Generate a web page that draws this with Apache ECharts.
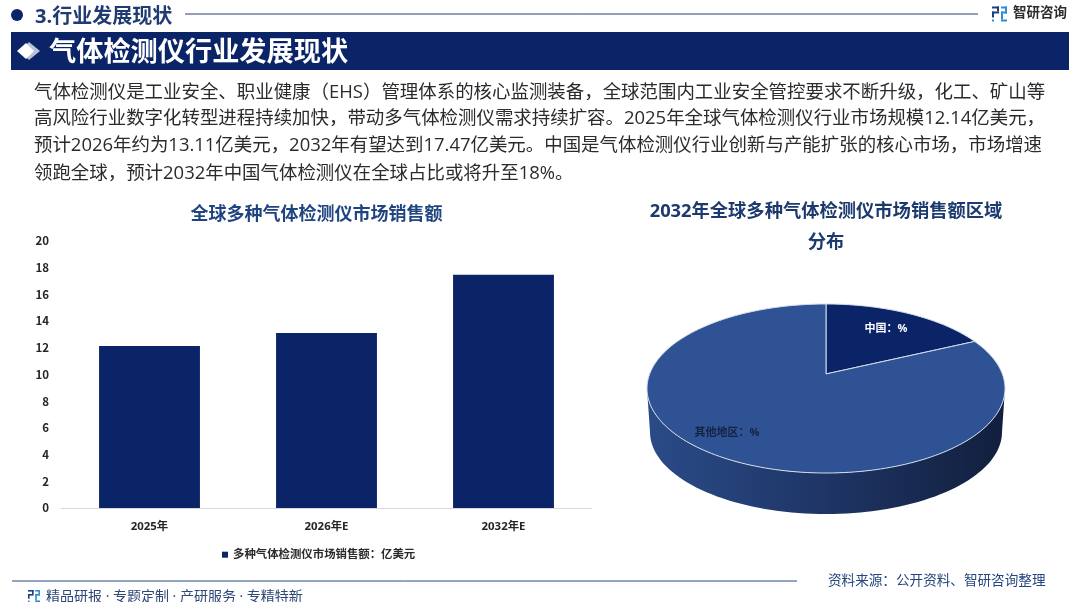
<!DOCTYPE html>
<html>
<head>
<meta charset="utf-8">
<style>html,body{margin:0;padding:0;background:#fff;overflow:hidden}#c{width:1080px;height:602px}</style>
<script src="https://cdn.jsdelivr.net/npm/echarts@6/dist/echarts.min.js"></script>
</head>
<body>
<div id="c"></div>
<script>
const categories = ['2025年', '2026年E', '2032年E'];
const barValues = [12.14, 13.11, 17.47];
const barSeriesName = '多种气体检测仪市场销售额：亿美元';
const pieNames = ['中国：%', '其他地区：%'];
const pieValues = [18, 82];
const paragraphLines = [
  '气体检测仪是工业安全、职业健康（EHS）管理体系的核心监测装备，全球范围内工业安全管控要求不断升级，化工、矿山等',
  '高风险行业数字化转型进程持续加快，带动多气体检测仪需求持续扩容。2025年全球气体检测仪行业市场规模12.14亿美元，',
  '预计2026年约为13.11亿美元，2032年有望达到17.47亿美元。中国是气体检测仪行业创新与产能扩张的核心市场，市场增速',
  '领跑全球，预计2032年中国气体检测仪在全球占比或将升至18%。'
];

const FONT = '"Open Sans","Noto Sans CJK SC","Noto Sans",sans-serif';
const NAVY = '#0b2468';

// 3D pie geometry
const P = {cx: 826, cy: 388.5, rx: 179, ry: 84.5, tilt: 0.172,
           baseCy: 432, baseRx: 176, baseRy: 82};
function project(angle) {
  const X = Math.sin(angle), Y = Math.cos(angle), q = P.tilt;
  const w = 1 + q * Y;
  return [P.cx + P.rx * X * Math.sqrt(1 - q * q) / w, P.cy - P.ry * (Y + q) / w];
}
function sidePoints() {
  const pts = [];
  for (let i = 0; i <= 80; i++) {
    const a = Math.PI * i / 80;
    pts.push([P.cx - P.rx * Math.cos(a), P.cy + P.ry * Math.sin(a)]);
  }
  for (let i = 80; i >= 0; i--) {
    const a = Math.PI * i / 80;
    pts.push([P.cx - P.baseRx * Math.cos(a), P.baseCy + P.baseRy * Math.sin(a)]);
  }
  return pts;
}
const pieTotal = pieValues.reduce((a, b) => a + b, 0);
const labelPos = [[886, 329], [727, 433]];
const labelColor = ['#ffffff', '#14233f'];
const sliceColor = [NAVY, '#2f5295'];

function renderPie(params, api) {
  const i = params.dataIndex;
  let before = 0;
  for (let k = 0; k < i; k++) before += pieValues[k];
  const start = before / pieTotal * 2 * Math.PI;
  const sweep = api.value(0) / pieTotal * 2 * Math.PI;
  const steps = Math.max(8, Math.round(sweep * 40));
  const pts = [[P.cx, P.cy - P.ry * P.tilt]];
  for (let s = 0; s <= steps; s++) pts.push(project(start + sweep * s / steps));
  const children = [];
  if (i === 0) {
    children.push({
      type: 'polygon', shape: {points: sidePoints()},
      style: {fill: new echarts.graphic.LinearGradient(0, 0, 1, 0, [
        {offset: 0, color: '#2a4b88'}, {offset: 0.5, color: '#1e3565'}, {offset: 1, color: '#121f3d'}
      ])}
    });
  }
  children.push({
    type: 'polygon', shape: {points: pts},
    style: {fill: sliceColor[i], stroke: '#d5dde9', lineWidth: 1, lineJoin: 'round'}
  });
  return {type: 'group', children: children};
}
function renderPieLabel(params) {
  const i = params.dataIndex;
  return {
    type: 'text', x: labelPos[i][0], y: labelPos[i][1],
    style: {text: pieNames[i], fill: labelColor[i], font: 'bold 11px ' + FONT, align: 'center', verticalAlign: 'middle'}
  };
}

function txt(text, x, y, font, fill, align) {
  return {type: 'text', x: x, y: y, z: 10,
    style: {text: text, font: font + ' ' + FONT, fill: fill, align: align || 'left', verticalAlign: 'middle'}};
}
function rect(x, y, w, h, fill) {
  return {type: 'rect', z: 5, shape: {x: x, y: y, width: w, height: h}, style: {fill: fill}};
}
function logo(x, y, s) {
  const d = '#1d3f7f', b = '#2a8fd8';
  return [
    rect(x, y, 7 * s, 2 * s, d), rect(x + 5 * s, y, 2 * s, 5 * s, d), rect(x, y + 5 * s, 7 * s, 2 * s, d),
    rect(x, y + 5 * s, 2 * s, 6 * s, d), rect(x, y + 13 * s, 2 * s, 2 * s, b),
    rect(x + 9 * s, y, 6 * s, 2 * s, b), rect(x + 13 * s, y, 2 * s, 7 * s, b), rect(x + 9 * s, y + 5 * s, 6 * s, 2 * s, b),
    rect(x + 9 * s, y + 5 * s, 2 * s, 8 * s, b), rect(x + 9 * s, y + 13 * s, 6 * s, 2 * s, b)
  ];
}
const graphics = [
  {type: 'circle', z: 5, shape: {cx: 17, cy: 15, r: 6}, style: {fill: NAVY}},
  txt('3.行业发展现状', 35, 17, 'bold 20px', '#1f3b72'),
  {type: 'line', z: 5, shape: {x1: 185, y1: 14, x2: 978, y2: 14}, style: {stroke: '#2b4168', lineWidth: 1}},
  ...logo(992, 6.5, 1),
  txt('智研咨询', 1013, 13.5, 'bold 13.5px', '#2c2c2c'),
  rect(11, 32, 1058, 38, NAVY),
  {type: 'polygon', z: 6, shape: {points: [[29, 42], [40, 51], [29, 60], [20, 51]]}, style: {fill: '#b9c4d6'}},
  {type: 'polygon', z: 7, shape: {points: [[26, 43], [34, 51], [26, 59], [17, 51]]}, style: {fill: '#ffffff'}},
  txt('气体检测仪行业发展现状', 49, 53, 'bold 27.2px', '#ffffff'),
  ...paragraphLines.map((l, i) => txt(l, 34, [92.5, 119, 146, 173.5][i], '18.45px', '#2b2b2b')),
  {type: 'line', z: 5, shape: {x1: 12, y1: 581, x2: 797, y2: 581}, style: {stroke: '#2b4a80', lineWidth: 1}},
  ...logo(28, 590, 0.8),
  txt('精品研报 · 专题定制 · 产研服务 · 专精特新', 46, 597, '14px', '#2d4777'),
  txt('资料来源：公开资料、智研咨询整理', 828, 581.5, '13.6px', '#24467e')
];

const chart = echarts.init(document.getElementById('c'), null, {renderer: 'canvas'});
chart.setOption({
  animation: false,
  backgroundColor: '#ffffff',
  textStyle: {fontFamily: FONT},
  title: [
    {text: '全球多种气体检测仪市场销售额', left: 311.5, top: 201, textAlign: 'center',
     textStyle: {fontFamily: FONT, fontSize: 18, fontWeight: 'bold', color: '#1f4480'}},
    {text: '2032年全球多种气体检测仪市场销售额区域\n分布', left: 821, top: 191, textAlign: 'center',
     textStyle: {fontFamily: FONT, fontSize: 18.3, fontWeight: 'bold', color: '#1c3a6e', lineHeight: 31}}
  ],
  legend: {
    data: [barSeriesName], left: 217, top: 544, icon: 'rect', itemWidth: 6, itemHeight: 6, itemGap: 4,
    textStyle: {fontFamily: FONT, fontSize: 11.4, fontWeight: 'bold', color: '#2a2a2a'}
  },
  grid: {left: 61, right: 488, top: 241, bottom: 94, containLabel: false},
  xAxis: {
    type: 'category', data: categories,
    axisLine: {lineStyle: {color: '#d9d9d9'}}, axisTick: {show: false},
    axisLabel: {margin: 13, fontFamily: FONT, fontSize: 11.4, fontWeight: 'bold', color: '#262626'}
  },
  yAxis: {
    type: 'value', min: 0, max: 20, interval: 2,
    axisLine: {show: false}, axisTick: {show: false}, splitLine: {show: false},
    axisLabel: {margin: 12, fontFamily: '"Noto Sans CJK SC"', fontSize: 11.5, fontWeight: 'bold', color: '#262626'}
  },
  series: [
    {name: barSeriesName, type: 'bar', data: barValues, barWidth: '57%', itemStyle: {color: NAVY}},
    {type: 'custom', coordinateSystem: 'none', data: pieValues, renderItem: renderPie, silent: true, z: 3},
    {type: 'custom', coordinateSystem: 'none', data: pieValues, renderItem: renderPieLabel, silent: true, z: 4}
  ],
  graphic: graphics
});
</script>
</body>
</html>
